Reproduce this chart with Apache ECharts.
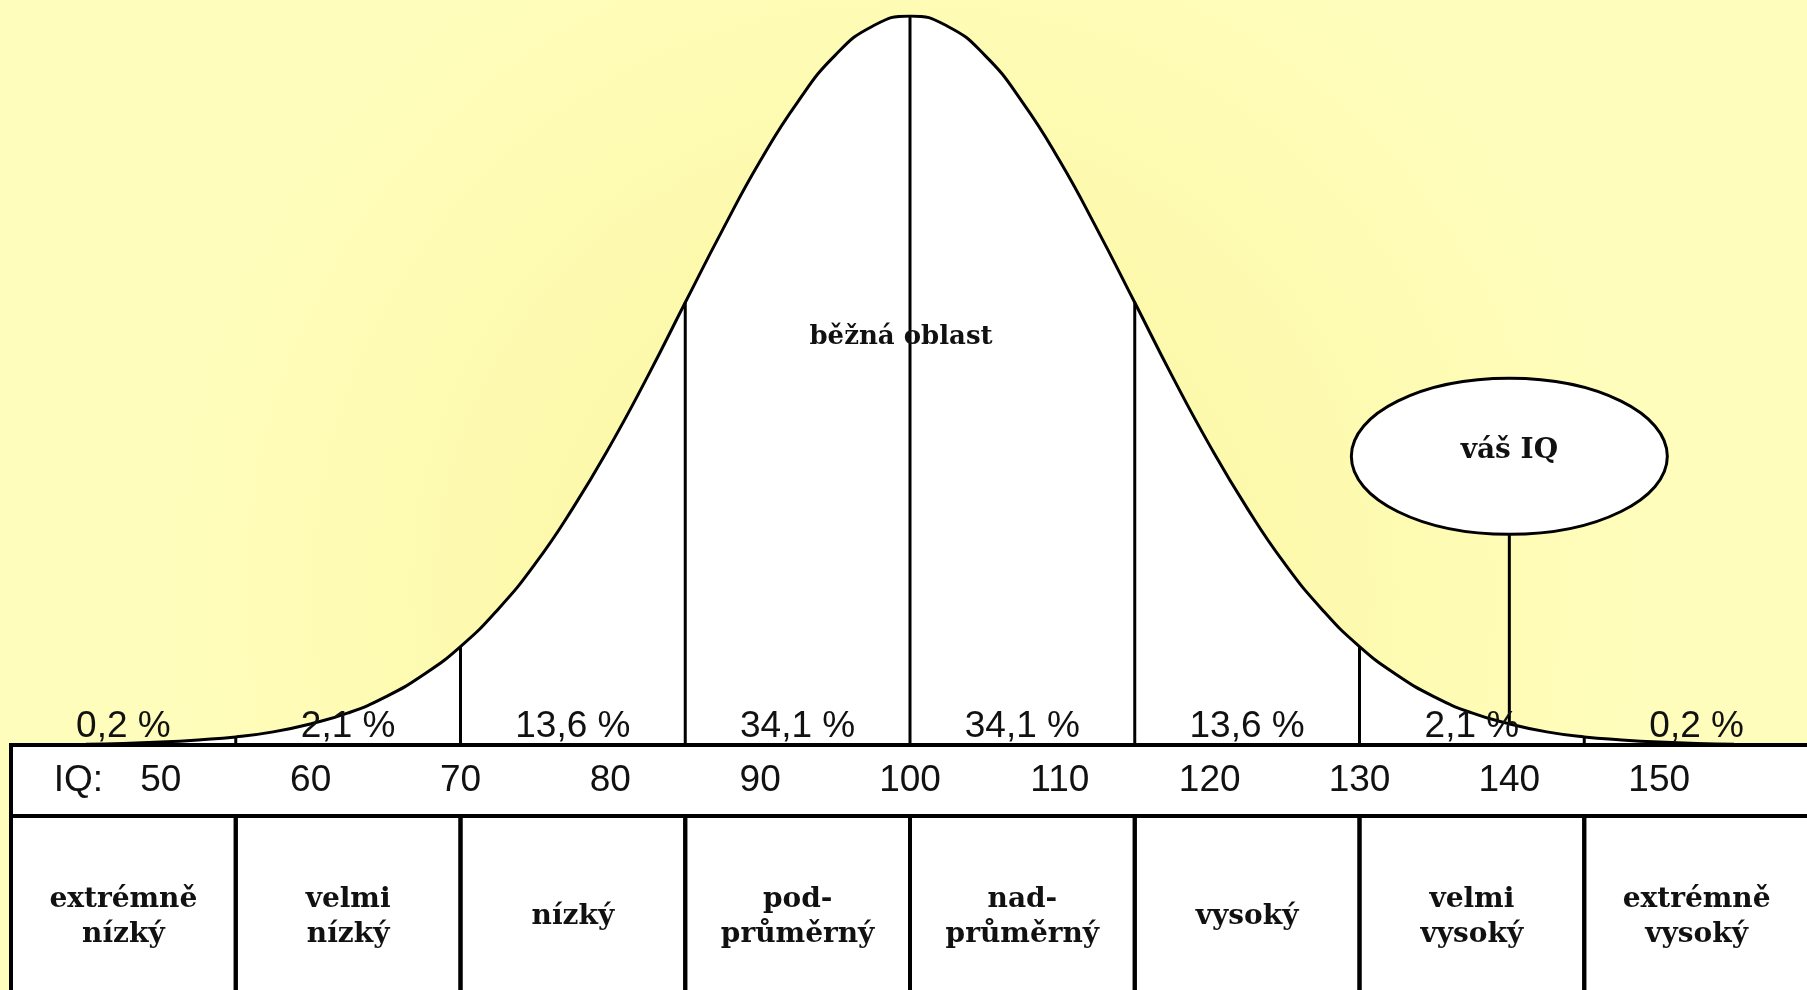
<!DOCTYPE html>
<html>
<head>
<meta charset="utf-8">
<title>IQ</title>
<script src="https://cdn.jsdelivr.net/npm/echarts@6/dist/echarts.min.js"></script>
<style>
  html, body { margin: 0; padding: 0; }
  #chart { width: 1807px; height: 990px; }
</style>
</head>
<body>
<div id="chart"></div>
<script>
// bell curve: height in % of the peak
const curveIQ = [45, 47.5, 50, 52.5, 55, 57.5, 60, 62.5, 65, 67.5, 70, 72.5, 75, 77.5, 80, 82.5, 85, 87.5, 90, 92.5, 95, 97.5,
  100, 102.5, 105, 107.5, 110, 112.5, 115, 117.5, 120, 122.5, 125, 127.5, 130, 132.5, 135, 137.5, 140, 142.5, 145, 147.5, 150, 152.5, 155];
const curveHeight = [0.1, 0.2, 0.4, 0.7, 1.1, 1.8, 2.9, 4.4, 6.6, 9.6, 13.5, 18.6, 24.9, 32.5, 41.1, 50.6, 60.7, 70.7, 80.1, 88.2, 94.6, 98.6,
  100, 98.6, 94.6, 88.2, 80.1, 70.7, 60.7, 50.6, 41.1, 32.5, 24.9, 18.6, 13.5, 9.6, 6.6, 4.4, 2.9, 1.8, 1.1, 0.7, 0.4, 0.2, 0.1];

// bands of the table
const bandEdges = [40, 55, 70, 85, 100, 115, 130, 145, 160];
const bandShares = ["0,2 %", "2,1 %", "13,6 %", "34,1 %", "34,1 %", "13,6 %", "2,1 %", "0,2 %"];
const bandNames = ["extrémně\nnízký", "velmi\nnízký", "nízký", "pod-\nprůměrný", "nad-\nprůměrný", "vysoký", "velmi\nvysoký", "extrémně\nvysoký"];

const iqMin = 40;
const iqMax = 160;
const iqStep = 10;
const yourIQ = 140;

const heightAt = (iq) => curveHeight[curveIQ.indexOf(iq)];

const SANS = "'Liberation Sans', Arial, sans-serif";
const SERIF = "'DejaVu Serif', serif";
const ROW_SPLIT = 26; // IQ row / names row boundary, in table units (0..100)

const chart = echarts.init(document.getElementById("chart"));

chart.setOption({
  animation: false,
  backgroundColor: new echarts.graphic.RadialGradient(0.5, 0.6, 0.75, [
    { offset: 0, color: "#faf69f" },
    { offset: 1, color: "#fffdbb" }
  ]),
  grid: [
    { left: 11, right: -2, top: 16, height: 729, outerBoundsMode: "none" },
    { left: 11, right: -2, top: 745, height: 273, outerBoundsMode: "none",
      show: true, backgroundColor: "#fff", borderWidth: 0 }
  ],
  xAxis: [
    { type: "value", gridIndex: 0, min: iqMin, max: iqMax, show: false },
    {
      type: "value", gridIndex: 1, min: iqMin, max: iqMax, interval: iqStep, position: "top",
      axisLine: { show: false }, axisTick: { show: false }, splitLine: { show: false },
      axisLabel: {
        inside: true, margin: 36, verticalAlign: "middle",
        showMinLabel: false, showMaxLabel: false, hideOverlap: false,
        color: "#111", fontSize: 37, fontFamily: SANS
      }
    }
  ],
  yAxis: [
    { type: "value", gridIndex: 0, min: 0, max: 100, show: false },
    { type: "value", gridIndex: 1, min: 0, max: 100, inverse: true, show: false }
  ],
  series: [
    {
      name: "curve",
      type: "line",
      xAxisIndex: 0, yAxisIndex: 0,
      data: curveIQ.map((x, i) => [x, curveHeight[i]]),
      smooth: 0.5,
      symbol: "none",
      lineStyle: { color: "#000", width: 3 },
      areaStyle: { color: "#fff", opacity: 1 },
      z: 2
    },
    {
      name: "dividers",
      type: "custom",
      xAxisIndex: 0, yAxisIndex: 0,
      data: bandEdges.slice(1, -1).map(b => [b, heightAt(b)]),
      renderItem: (params, api) => {
        const a = api.coord([api.value(0), 0]);
        const b = api.coord([api.value(0), api.value(1)]);
        return {
          type: "line",
          shape: { x1: a[0], y1: a[1], x2: b[0], y2: b[1] },
          style: { stroke: "#000", lineWidth: 3 }
        };
      },
      z: 3
    },
    {
      name: "your IQ",
      type: "custom",
      xAxisIndex: 0, yAxisIndex: 0,
      data: [[yourIQ, heightAt(yourIQ)]],
      renderItem: (params, api) => {
        const c = api.coord([api.value(0), 39.6]);
        const base = api.coord([api.value(0), api.value(1)]);
        const t = api.coord([99.4, 56]);
        const rx = 158, ry = 78;
        return {
          type: "group",
          children: [
            { type: "text", x: t[0], y: t[1],
              style: { text: "běžná oblast", fill: "#111", fontSize: 26, fontWeight: "bold", fontFamily: SERIF,
                       align: "center", verticalAlign: "middle" } },
            { type: "line", shape: { x1: c[0], y1: c[1] + ry, x2: base[0], y2: base[1] },
              style: { stroke: "#000", lineWidth: 3 } },
            { type: "ellipse", shape: { cx: c[0], cy: c[1], rx: rx, ry: ry },
              style: { fill: "#fff", stroke: "#000", lineWidth: 3 } },
            { type: "text", x: c[0], y: c[1] - 6,
              style: { text: "váš IQ", fill: "#111", fontSize: 28, fontWeight: "bold", fontFamily: SERIF,
                       align: "center", verticalAlign: "middle" } }
          ]
        };
      },
      z: 4
    },
    {
      name: "IQ row",
      type: "custom",
      xAxisIndex: 1, yAxisIndex: 1,
      data: [[iqMin, iqMax]],
      renderItem: (params, api) => {
        const p0 = api.coord([api.value(0), 0]);
        const p1 = api.coord([api.value(1), ROW_SPLIT]);
        const lab = api.coord([44.5, ROW_SPLIT / 2]);
        return {
          type: "group",
          children: [
            { type: "rect", shape: { x: p0[0], y: p0[1], width: p1[0] - p0[0], height: p1[1] - p0[1] },
              style: { fill: "none", stroke: "#000", lineWidth: 4 } },
            { type: "text", x: lab[0], y: lab[1],
              style: { text: "IQ:", fill: "#111", fontSize: 37, fontFamily: SANS, align: "center", verticalAlign: "middle" } }
          ]
        };
      },
      z: 5
    },
    {
      name: "bands",
      type: "custom",
      xAxisIndex: 1, yAxisIndex: 1,
      data: bandNames.map((n, i) => [bandEdges[i], bandEdges[i + 1], i]),
      renderItem: (params, api) => {
        const i = api.value(2);
        const x0 = api.value(0), x1 = api.value(1), mid = (x0 + x1) / 2;
        const p0 = api.coord([x0, ROW_SPLIT]);
        const p1 = api.coord([x1, 100]);
        const pc = api.coord([mid, (ROW_SPLIT + 100) / 2]);
        const pt = api.coord([mid, 0]);
        return {
          type: "group",
          children: [
            { type: "rect", shape: { x: p0[0], y: p0[1], width: p1[0] - p0[0], height: p1[1] - p0[1] },
              style: { fill: "none", stroke: "#000", lineWidth: 4 } },
            { type: "text", x: pc[0], y: pc[1],
              style: { text: bandNames[i], fill: "#111", fontSize: 28, fontWeight: "bold", fontFamily: SERIF,
                       lineHeight: 35, align: "center", verticalAlign: "middle" } },
            { type: "text", x: pt[0], y: pt[1] - 18,
              style: { text: bandShares[i], fill: "#111", fontSize: 37, fontFamily: SANS,
                       align: "center", verticalAlign: "middle" } }
          ]
        };
      },
      z: 5
    }
  ]
});
</script>
</body>
</html>
